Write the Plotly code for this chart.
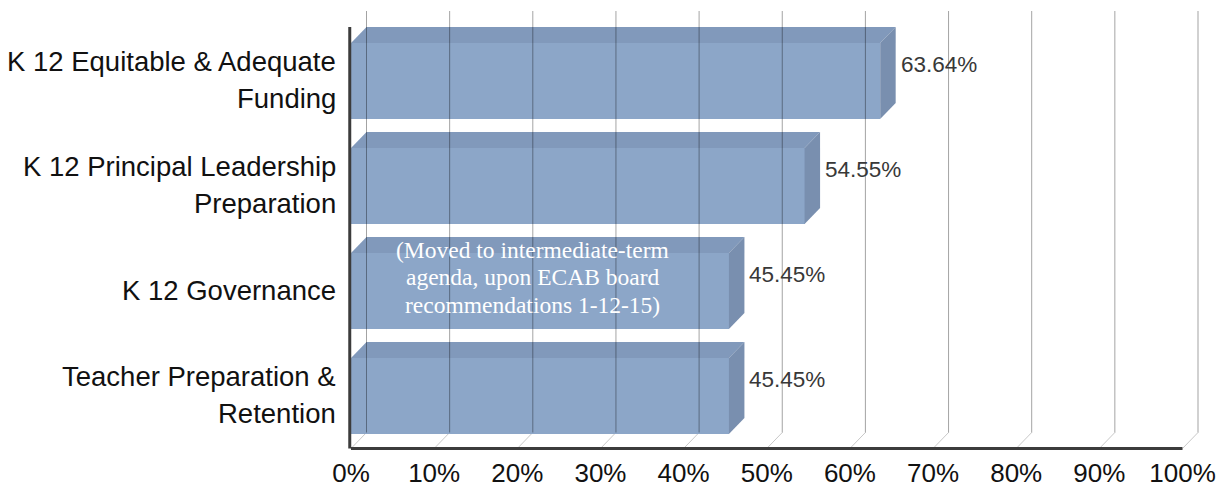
import plotly.graph_objects as go

# ---- data -------------------------------------------------------------
categories = [
    "K 12 Equitable & Adequate Funding",
    "K 12 Principal Leadership Preparation",
    "K 12 Governance",
    "Teacher Preparation & Retention",
]
label_lines = [
    ["K 12 Equitable & Adequate", "Funding"],
    ["K 12 Principal Leadership", "Preparation"],
    ["K 12 Governance"],
    ["Teacher Preparation &", "Retention"],
]
values = [63.64, 54.55, 45.45, 45.45]
tick_values = [0, 10, 20, 30, 40, 50, 60, 70, 80, 90, 100]
tick_labels = ["0%", "10%", "20%", "30%", "40%", "50%", "60%", "70%", "80%", "90%", "100%"]
note_lines = ["(Moved to intermediate-term", "agenda, upon ECAB board", "recommendations 1-12-15)"]
note_category = "K 12 Governance"

# ---- geometry / style -------------------------------------------------
W, H = 1223, 489
X0_PX, PX_PER_UNIT = 351.0, 8.315          # pixel of 0 % and scale
ROW0_PX, ROW_PX = 396.0, 105.0             # pixel centre of lowest row, row pitch
PLOT_L, PLOT_R, PLOT_T, PLOT_B = 340, 1210, 0, 451

x_range = [(PLOT_L - X0_PX) / PX_PER_UNIT, (PLOT_R - X0_PX) / PX_PER_UNIT]
y_range = [(ROW0_PX - PLOT_B) / ROW_PX, (ROW0_PX - PLOT_T) / ROW_PX]

DX = 15.5 / PX_PER_UNIT      # depth offset along x (data units)
DY = 16.0 / ROW_PX           # depth offset along y (data units)
HALF = 38.0 / ROW_PX         # half bar thickness
FLOOR = -0.5                 # front floor level
WALL_TOP = (ROW0_PX - 11) / ROW_PX

FRONT = "rgb(140,166,200)"
TOP = "rgb(129,153,187)"
SIDE = "rgb(121,143,175)"
GRID = "rgba(0,0,0,0.36)"
FLOOR_GRID = "rgba(0,0,0,0.22)"
AXIS = "#3c3c3c"

n = len(categories)
ypos = [n - 1 - i for i in range(n)]

fig = go.Figure()

fig.add_trace(go.Bar(
    x=values, y=ypos, orientation="h", width=2 * HALF,
    marker=dict(color=FRONT, line=dict(width=0)),
    hoverinfo="skip", showlegend=False,
))

shapes = []

# floor diagonals (front axis to back wall)
for t in tick_values:
    shapes.append(dict(type="line", xref="x", yref="y", layer="below",
                       x0=t, y0=FLOOR, x1=t + DX, y1=FLOOR + DY,
                       line=dict(color=FLOOR_GRID, width=1)))

# top and side faces of each bar
for v, c in zip(values, ypos):
    top = c + HALF
    bot = c - HALF
    shapes.append(dict(
        type="path", xref="x", yref="y", layer="above",
        path=f"M 0,{top} L {DX},{top + DY} L {v + DX},{top + DY} L {v},{top} Z",
        fillcolor=TOP, line=dict(width=0)))
    shapes.append(dict(
        type="path", xref="x", yref="y", layer="above",
        path=f"M {v},{bot} L {v + DX},{bot + DY} L {v + DX},{top + DY} L {v},{top} Z",
        fillcolor=SIDE, line=dict(width=0)))

# back-wall gridlines
for t in tick_values:
    shapes.append(dict(type="line", xref="x", yref="y", layer="above",
                       x0=t + DX, y0=FLOOR + DY, x1=t + DX, y1=WALL_TOP,
                       line=dict(color=GRID, width=1)))

# front axis and left wall edge
shapes.append(dict(type="line", xref="x", yref="y", layer="above",
                   x0=0, y0=FLOOR, x1=tick_values[-1], y1=FLOOR,
                   line=dict(color=AXIS, width=3)))
shapes.append(dict(type="line", xref="x", yref="y", layer="above",
                   x0=-0.15, y0=FLOOR, x1=-0.15, y1=WALL_TOP - DY,
                   line=dict(color=AXIS, width=3)))

annotations = []

# value labels beside each bar
for v, c in zip(values, ypos):
    annotations.append(dict(
        x=v + DX, y=c, xref="x", yref="y", text=f"{v:.2f}%",
        xanchor="left", yanchor="middle", xshift=3, yshift=17,
        showarrow=False,
        font=dict(family="Liberation Sans, Arial", size=22.5, color="#383838")))

# category labels, one annotation per line
LABEL_X = (338 - PLOT_L) / (PLOT_R - PLOT_L)
LINE_PX = 37
for lines, c in zip(label_lines, ypos):
    m = len(lines)
    for k, line in enumerate(lines):
        annotations.append(dict(
            x=LABEL_X, y=c, xref="paper", yref="y", text=line,
            xanchor="right", yanchor="middle", showarrow=False,
            yshift=((m - 1) / 2 - k) * LINE_PX + 1,
            font=dict(family="Liberation Sans, Arial", size=27.5, color="#111111")))

# note written on the governance bar
note_y = ypos[categories.index(note_category)]
note_x = (532 - X0_PX) / PX_PER_UNIT
for k, line in enumerate(note_lines):
    annotations.append(dict(
        x=note_x, y=note_y, xref="x", yref="y", text=line,
        xanchor="center", yanchor="middle", showarrow=False,
        yshift=14 + (1 - k) * 27.5,
        font=dict(family="Liberation Serif, Times New Roman", size=23.5, color="white")))

fig.update_layout(
    width=W, height=H,
    margin=dict(l=PLOT_L, r=W - PLOT_R, t=PLOT_T, b=H - PLOT_B),
    paper_bgcolor="white", plot_bgcolor="white",
    bargap=0,
    shapes=shapes, annotations=annotations,
    xaxis=dict(range=x_range, tickvals=tick_values, ticktext=tick_labels,
               showgrid=False, zeroline=False, showline=False, ticks="",
               ticklabelstandoff=4,
               tickfont=dict(family="Liberation Sans, Arial", size=26, color="#111111"),
               fixedrange=True),
    yaxis=dict(range=y_range, showticklabels=False, showgrid=False,
               zeroline=False, showline=False, ticks="", fixedrange=True),
)

fig.write_html("out.html")
